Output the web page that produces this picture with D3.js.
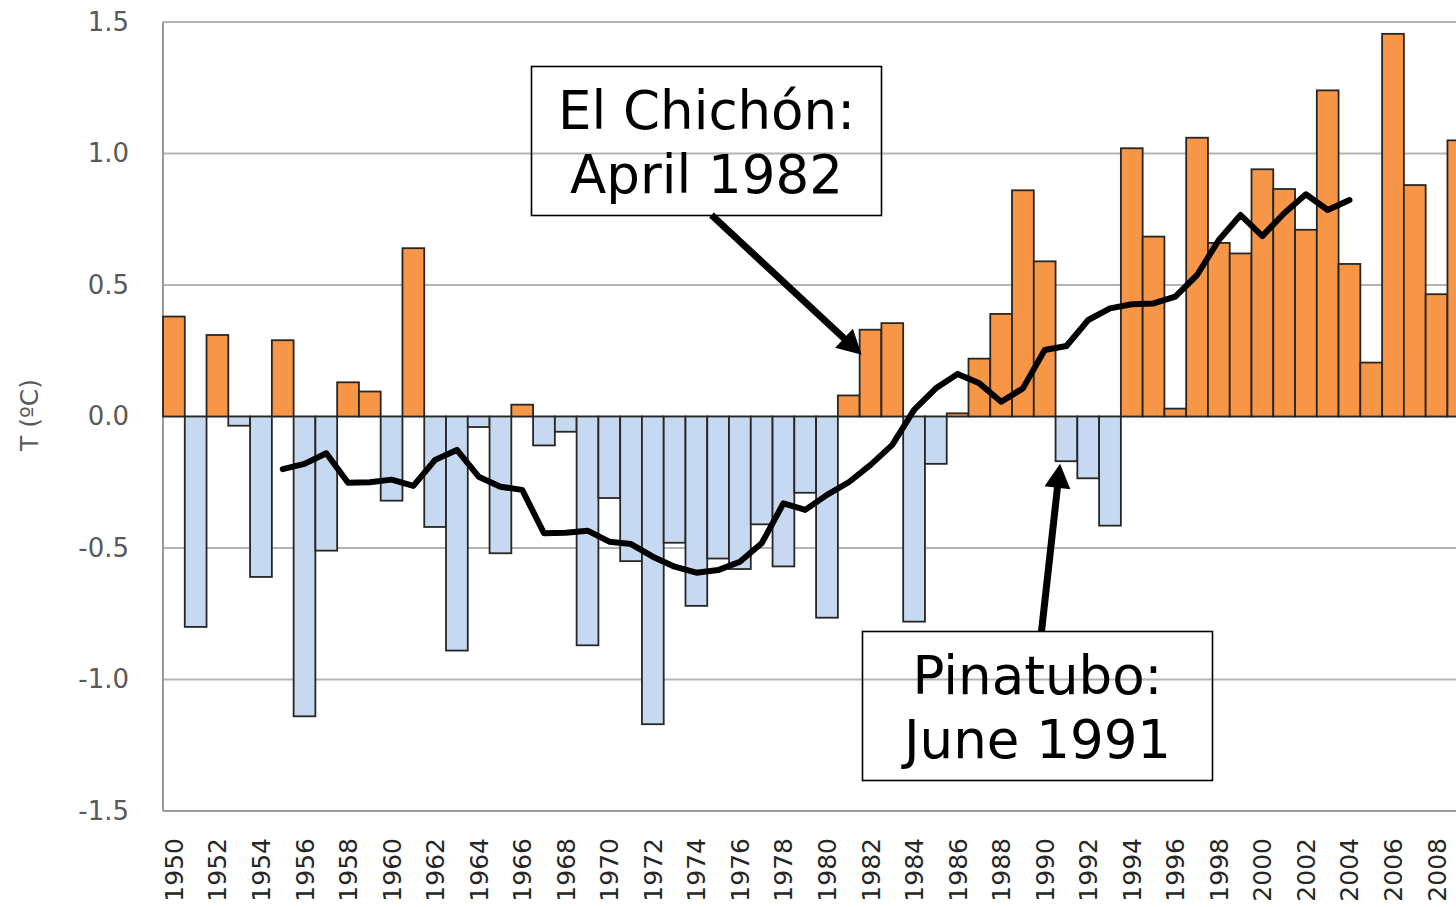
<!DOCTYPE html>
<html>
<head>
<meta charset="utf-8">
<script src="https://cdn.jsdelivr.net/npm/d3@7"></script>
<style>
  html, body { margin: 0; padding: 0; background: #fff; }
  svg { display: block; }
  text { font-family: "DejaVu Sans", Verdana, sans-serif; }
</style>
</head>
<body>
<svg id="chart" width="1456" height="907"></svg>
<script>
// Annual temperature anomaly (ºC), 1950–2009
const years = d3.range(1950, 2010);
const anomalies = [
  0.38, -0.80, 0.31, -0.035, -0.61, 0.29, -1.14, -0.51, 0.13, 0.095,
  -0.32, 0.64, -0.42, -0.89, -0.04, -0.52, 0.045, -0.11, -0.058, -0.87,
  -0.31, -0.55, -1.17, -0.48, -0.72, -0.54, -0.58, -0.41, -0.57, -0.29,
  -0.765, 0.08, 0.33, 0.355, -0.78, -0.18, 0.012, 0.22, 0.39, 0.86,
  0.59, -0.17, -0.235, -0.415, 1.02, 0.684, 0.03, 1.06, 0.66, 0.62,
  0.94, 0.865, 0.71, 1.24, 0.58, 0.205, 1.455, 0.88, 0.465, 1.05
];

// Running mean, 1955–2004
const meanYears = d3.range(1955, 2005);
const runningMean = [
  -0.20, -0.18, -0.14, -0.252, -0.25, -0.24, -0.264, -0.165, -0.127, -0.229,
  -0.267, -0.279, -0.444, -0.442, -0.434, -0.476, -0.485, -0.533, -0.571, -0.594,
  -0.584, -0.552, -0.482, -0.33, -0.355, -0.298, -0.25, -0.184, -0.108, 0.025,
  0.107, 0.162, 0.126, 0.056, 0.107, 0.253, 0.268, 0.367, 0.411, 0.427,
  0.43, 0.456, 0.538, 0.671, 0.766, 0.686, 0.773, 0.845, 0.785, 0.823
];

const yTicks = [-1.5, -1.0, -0.5, 0.0, 0.5, 1.0, 1.5];
const xTickYears = years.filter(y => y % 2 === 0);
const yLabel = "T (ºC)";

// Annotations: text lines, box and arrow tip anchored on a year/value
const annotations = [
  { lines: ["El Chichón:", "April 1982"], year: 1982, value: 0.235, tipDx: 2,
    box: { x: 531.5, y: 66.5, w: 350, h: 149 }, tail: [711.5, 215] },
  { lines: ["Pinatubo:", "June 1991"], year: 1991, value: -0.18, tipDx: 4.5,
    box: { x: 862.5, y: 631.5, w: 350, h: 149 }, tail: [1041.5, 631.5] }
];

const svg = d3.select("#chart");
const plotLeft = 163, plotTop = 22, plotBottom = 811, band = 21.77;

const x = d3.scaleBand()
  .domain(years)
  .range([plotLeft, plotLeft + band * years.length])
  .padding(0);

const y = d3.scaleLinear()
  .domain([-1.5, 1.5])
  .range([plotBottom, plotTop]);

const plotRight = plotLeft + band * years.length;

// Horizontal gridlines
svg.append("g")
  .selectAll("line")
  .data(yTicks)
  .join("line")
  .attr("x1", plotLeft)
  .attr("x2", plotRight)
  .attr("y1", d => y(d))
  .attr("y2", d => y(d))
  .attr("stroke", "#b4b4b4")
  .attr("stroke-width", 2);

// Left axis line
svg.append("line")
  .attr("x1", plotLeft).attr("x2", plotLeft)
  .attr("y1", plotTop).attr("y2", plotBottom)
  .attr("stroke", "#9a9a9a")
  .attr("stroke-width", 2);

// Y axis labels (plain hyphen for negatives)
const yAxis = d3.axisLeft(y)
  .tickValues(yTicks)
  .tickFormat(d => d.toFixed(1))
  .tickSize(0)
  .tickPadding(34);

const gy = svg.append("g")
  .attr("transform", `translate(${plotLeft},0)`)
  .call(yAxis);
gy.select(".domain").remove();
gy.selectAll("text")
  .attr("fill", "#595959")
  .style("font-size", "26px")
  .style("font-family", '"DejaVu Sans", Verdana, sans-serif');

// Bars
svg.append("g")
  .selectAll("rect")
  .data(years.map((yr, i) => ({ yr, v: anomalies[i] })))
  .join("rect")
  .attr("x", d => x(d.yr))
  .attr("width", x.bandwidth())
  .attr("y", d => y(Math.max(0, d.v)))
  .attr("height", d => Math.abs(y(d.v) - y(0)))
  .attr("fill", d => d.v >= 0 ? "#f79646" : "#c6d9f1")
  .attr("stroke", "#262626")
  .attr("stroke-width", 1.8);

// X axis labels
const xAxis = d3.axisBottom(x)
  .tickValues(xTickYears)
  .tickSize(0);

const gx = svg.append("g")
  .attr("transform", `translate(0,${plotBottom})`)
  .call(xAxis);
gx.select(".domain").remove();
gx.selectAll("text")
  .attr("transform", "rotate(-90)")
  .attr("text-anchor", "end")
  .attr("x", -27)
  .attr("y", 0)
  .attr("dy", "0.36em")
  .attr("fill", "#262626")
  .style("font-size", "25px")
  .style("font-family", '"DejaVu Sans", Verdana, sans-serif');

// Bottom axis line
svg.append("line")
  .attr("x1", plotLeft).attr("x2", plotRight)
  .attr("y1", plotBottom).attr("y2", plotBottom)
  .attr("stroke", "#9a9a9a")
  .attr("stroke-width", 2);

// Running mean line
const line = d3.line()
  .x((d, i) => x(meanYears[i]) + x.bandwidth() / 2)
  .y(d => y(d));

svg.append("path")
  .datum(runningMean)
  .attr("d", line)
  .attr("fill", "none")
  .attr("stroke", "#000")
  .attr("stroke-width", 6)
  .attr("stroke-linejoin", "round")
  .attr("stroke-linecap", "round");

// Y axis title
svg.append("text")
  .attr("transform", `translate(38,415) rotate(-90)`)
  .attr("text-anchor", "middle")
  .attr("fill", "#595959")
  .style("font-size", "25px")
  .text(yLabel);

// Annotation boxes with arrows
const ann = svg.append("g");
annotations.forEach(a => {
  const b = a.box;
  ann.append("rect")
    .attr("x", b.x).attr("y", b.y)
    .attr("width", b.w).attr("height", b.h)
    .attr("fill", "none")
    .attr("stroke", "#000")
    .attr("stroke-width", 1.6);

  ann.append("g")
    .selectAll("text")
    .data(a.lines)
    .join("text")
    .attr("x", b.x + b.w / 2)
    .attr("y", (d, i) => b.y + 62 + i * 64)
    .attr("text-anchor", "middle")
    .attr("fill", "#000")
    .style("font-size", "53px")
    .text(d => d);

  const tip = [x(a.year) + a.tipDx, y(a.value)];
  const [tx, ty] = a.tail;
  const dx = tip[0] - tx, dy = tip[1] - ty;
  const len = Math.hypot(dx, dy);
  const ux = dx / len, uy = dy / len;
  const headLen = 24, headHalf = 13;
  const base = [tip[0] - ux * headLen, tip[1] - uy * headLen];

  ann.append("line")
    .attr("x1", tx).attr("y1", ty)
    .attr("x2", base[0] + ux * 2).attr("y2", base[1] + uy * 2)
    .attr("stroke", "#000")
    .attr("stroke-width", 7);

  ann.append("path")
    .attr("d", d3.line()([
      tip,
      [base[0] - uy * headHalf, base[1] + ux * headHalf],
      [base[0] + uy * headHalf, base[1] - ux * headHalf]
    ]) + "Z")
    .attr("fill", "#000");
});
</script>
</body>
</html>
